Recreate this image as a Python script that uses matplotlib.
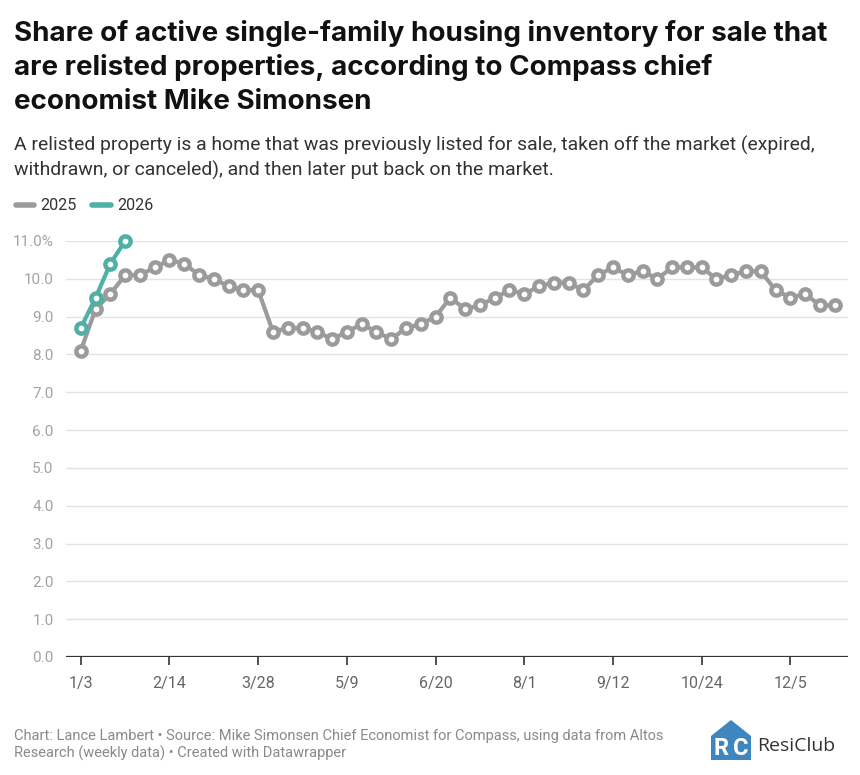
import matplotlib
matplotlib.use("Agg")
import matplotlib.pyplot as plt
from matplotlib.patches import Polygon

plt.rcParams['font.family'] = ['Roboto', 'DejaVu Sans']

# ---- data ----
weeks_2025 = list(range(52))
share_2025 = [8.1, 9.2, 9.6, 10.1, 10.1, 10.3, 10.5, 10.4, 10.1, 10.0, 9.8, 9.7, 9.7,
              8.6, 8.7, 8.7, 8.6, 8.4, 8.6, 8.8, 8.6, 8.4, 8.7, 8.8, 9.0, 9.5,
              9.2, 9.3, 9.5, 9.7, 9.6, 9.8, 9.9, 9.9, 9.7, 10.1, 10.3, 10.1, 10.2,
              10.0, 10.3, 10.3, 10.3, 10.0, 10.1, 10.2, 10.2, 9.7, 9.5, 9.6, 9.3, 9.3]
weeks_2026 = [0, 1, 2, 3]
share_2026 = [8.7, 9.5, 10.4, 11.0]
xtick_weeks = [0, 6, 12, 18, 24, 30, 36, 42, 48]
xtick_labels = ["1/3", "2/14", "3/28", "5/9", "6/20", "8/1", "9/12", "10/24", "12/5"]
yticks = [0, 1, 2, 3, 4, 5, 6, 7, 8, 9, 10, 11]
ytick_labels = ["0.0", "1.0", "2.0", "3.0", "4.0", "5.0", "6.0", "7.0", "8.0", "9.0", "10.0", "11.0%"]

GRAY = "#9b9b9b"
TEAL = "#4fb0a6"
W, H = 860, 775

fig = plt.figure(figsize=(W / 100, H / 100), dpi=100)
fig.patch.set_facecolor("white")

def fx(px):
    return px / W

def fy(py):
    return 1 - py / H

ax = fig.add_axes([fx(66), fy(657), fx(848) - fx(66), fy(241) - fy(657)])
ax.set_xlim(-1.0, 51.9)
ax.set_ylim(0, 11)

for y in yticks[1:]:
    ax.axhline(y, color="#e3e3e3", lw=1.0, zorder=1)
ax.axhline(0, color="#333333", lw=1.6, zorder=2)

for s in ax.spines.values():
    s.set_visible(False)

ax.set_yticks(yticks)
ax.set_yticklabels(ytick_labels)
ax.tick_params(axis="y", length=0, pad=9, labelsize=11, labelcolor="#a3a3a3")
ax.set_xticks(xtick_weeks)
ax.set_xticklabels(xtick_labels)
ax.tick_params(axis="x", length=6, width=1.2, color="#333333", pad=8,
               labelsize=11.5, labelcolor="#666666")

mk = dict(marker="o", markersize=7.4, markeredgewidth=3.2, markerfacecolor="white",
          lw=3.0, solid_joinstyle="round", clip_on=False)
ax.plot(weeks_2025, share_2025, color=GRAY, markeredgecolor=GRAY, zorder=3, **mk)
ax.plot(weeks_2026, share_2026, color=TEAL, markeredgecolor=TEAL, zorder=4, **mk)

# ---- titles ----
title_lines = ["Share of active single-family housing inventory for sale that",
               "are relisted properties, according to Compass chief",
               "economist Mike Simonsen"]
for i, t in enumerate(title_lines):
    fig.text(fx(14), fy(41 + i * 34), t, fontsize=20.0, fontweight="bold",
             family=["Inter", "Roboto", "DejaVu Sans"],
             color="#111111", va="baseline", ha="left")

sub_lines = ["A relisted property is a home that was previously listed for sale, taken off the market (expired,",
             "withdrawn, or canceled), and then later put back on the market."]
for i, t in enumerate(sub_lines):
    fig.text(fx(14), fy(151 + i * 25), t, fontsize=13.95, color="#333333",
             va="baseline", ha="left")

# ---- legend ----
fig.add_artist(plt.Line2D([fx(16), fx(34)], [fy(205), fy(205)], color=GRAY, lw=4,
                          solid_capstyle="round"))
fig.text(fx(40), fy(205), "2025", fontsize=11.6, color="#333333", va="center", ha="left")
fig.add_artist(plt.Line2D([fx(92), fx(111)], [fy(205), fy(205)], color=TEAL, lw=4,
                          solid_capstyle="round"))
fig.text(fx(117), fy(205), "2026", fontsize=11.6, color="#333333", va="center", ha="left")

# ---- footer ----
foot = ["Chart: Lance Lambert \u2022 Source: Mike Simonsen Chief Economist for Compass, using data from Altos",
        "Research (weekly data) \u2022 Created with Datawrapper"]
for i, t in enumerate(foot):
    fig.text(fx(14), fy(740 + i * 18), t, fontsize=10.5, color="#8a8a8a",
             va="baseline", ha="left")

# ---- logo ----
BLUE = "#3d86c0"
lax = fig.add_axes([fx(708), fy(762), fx(754) - fx(708), fy(718) - fy(762)])
lax.set_xlim(708, 754)
lax.set_ylim(762, 718)
lax.axis("off")
lax.add_patch(Polygon([[711, 736], [731, 720], [751, 736], [751, 760], [711, 760]],
                      closed=True, color=BLUE, lw=0))
lax.text(721, 749, "R", fontsize=17, fontweight="bold", color="white", ha="center", va="center")
lax.text(741, 749, "C", fontsize=17, fontweight="bold", color="white", ha="center", va="center")
fig.text(fx(757), fy(746), "ResiClub", fontsize=14, family=["Open Sans", "Roboto", "DejaVu Sans"],
         color="#333333", va="center", ha="left")

fig.savefig("out.png", dpi=100, facecolor="white")
